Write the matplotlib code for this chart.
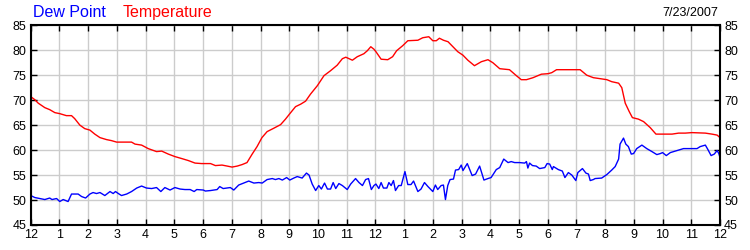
import matplotlib
matplotlib.use("Agg")
import matplotlib.pyplot as plt

plt.rcParams["font.family"] = ["Liberation Sans", "DejaVu Sans"]

# hours since midnight, 7/23/2007
temp_hours = [
    0.0, 0.14, 0.26, 0.49, 0.66, 0.84, 1.01, 1.24, 1.42, 1.53, 1.71, 1.88,
    2.06, 2.23, 2.41, 2.64, 2.81, 2.99, 3.51, 3.63, 3.86, 4.09, 4.38, 4.56,
    4.79, 5.02, 5.26, 5.49, 5.72, 5.95, 6.26, 6.43, 6.66, 6.84, 7.01, 7.19,
    7.36, 7.53, 7.71, 7.88, 8.05, 8.23, 8.47, 8.70, 8.87, 9.05, 9.22, 9.40,
    9.57, 9.74, 9.98, 10.21, 10.44, 10.67, 10.85, 10.97, 11.2, 11.37, 11.6,
    11.72, 11.84, 11.95, 12.02, 12.2, 12.43, 12.6, 12.74, 12.95, 13.13,
    13.48, 13.65, 13.86, 14.0, 14.12, 14.23, 14.37, 14.53, 14.7, 14.87,
    15.05, 15.22, 15.45, 15.69, 15.92, 16.09, 16.33, 16.67, 16.91, 17.08,
    17.26, 17.49, 17.78, 18.01, 18.14, 18.31, 18.6, 19.13, 19.36, 19.59,
    19.83, 20.06, 20.23, 20.47, 20.58, 20.7, 20.84, 20.95, 21.16, 21.34,
    21.57, 21.77, 22.33, 22.56, 22.79, 23.02, 23.49, 23.72, 23.9, 24.0,
]
temperature = [
    70.7, 70.1, 69.4, 68.5, 68.1, 67.5, 67.3, 66.9, 66.9, 66.3, 65.0, 64.3,
    64.0, 63.2, 62.5, 62.1, 61.9, 61.6, 61.6, 61.2, 61.0, 60.3, 59.7, 59.8,
    59.2, 58.7, 58.3, 57.9, 57.4, 57.3, 57.3, 56.9, 57.0, 56.8, 56.6, 56.8,
    57.1, 57.5, 59.2, 60.7, 62.5, 63.7, 64.4, 65.1, 66.2, 67.5, 68.7, 69.2,
    69.8, 71.2, 72.9, 74.9, 75.9, 77.0, 78.3, 78.6, 78.0, 78.7, 79.3,
    79.9, 80.7, 80.2, 79.7, 78.2, 78.1, 78.7, 79.9, 80.9, 81.9,
    82.0, 82.5, 82.7, 81.9, 81.9, 82.4, 82.0, 81.7, 80.7, 79.7,
    79.0, 78.0, 76.9, 77.7, 78.1, 77.5, 76.3, 76.1, 74.9, 74.1,
    74.1, 74.5, 75.2, 75.3, 75.5, 76.1, 76.1, 76.1, 75.0, 74.5,
    74.3, 74.1, 73.7, 73.4, 72.5, 69.4, 67.7, 66.5, 66.2, 65.7,
    64.5, 63.2, 63.2, 63.4, 63.4, 63.5, 63.4, 63.2, 63.0, 62.5,
]

dew_hours = [
    0.0, 0.14, 0.31, 0.49, 0.6, 0.66, 0.74, 0.9, 1.01, 1.13, 1.3, 1.42,
    1.65, 1.77, 1.91, 2.06, 2.17, 2.29, 2.41, 2.58, 2.76, 2.87, 2.95, 3.05,
    3.16, 3.34, 3.51, 3.69, 3.86, 4.03, 4.21, 4.38, 4.53, 4.67, 4.85, 5.02,
    5.2, 5.37, 5.55, 5.69, 5.78, 6.01, 6.08, 6.26, 6.49, 6.58, 6.7, 6.84,
    6.95, 7.07, 7.24, 7.42, 7.59, 7.77, 7.94, 8.06, 8.23, 8.41, 8.52, 8.64,
    8.76, 8.91, 9.02, 9.16, 9.28, 9.45, 9.6, 9.69, 9.8, 9.92, 10.03, 10.12,
    10.23, 10.33, 10.44, 10.53, 10.62, 10.73, 10.85, 11.02, 11.14, 11.31,
    11.43, 11.55, 11.66, 11.76, 11.86, 11.95, 12.02, 12.12, 12.2, 12.28,
    12.4, 12.47, 12.55, 12.63, 12.7, 12.81, 12.9, 13.03, 13.13, 13.24,
    13.33, 13.48, 13.59, 13.71, 13.83, 14.0, 14.09, 14.17, 14.29, 14.37,
    14.44, 14.52, 14.6, 14.72, 14.79, 14.9, 14.99, 15.05, 15.2, 15.37,
    15.49, 15.63, 15.78, 15.92, 16.03, 16.21, 16.33, 16.47, 16.62, 16.73,
    16.85, 17.02, 17.2, 17.26, 17.31, 17.37, 17.47, 17.6, 17.72, 17.9,
    17.98, 18.07, 18.16, 18.2, 18.37, 18.51, 18.6, 18.72, 18.84, 18.98,
    19.05, 19.21, 19.33, 19.42, 19.48, 19.59, 19.65, 19.88, 20.06, 20.23,
    20.35, 20.47, 20.52, 20.64, 20.72, 20.81, 20.91, 20.99, 21.1, 21.28,
    21.45, 21.63, 21.8, 21.92, 22.0, 22.13, 22.27, 22.5, 22.73, 22.97,
    23.2, 23.31, 23.49, 23.57, 23.69, 23.8, 23.9, 23.96, 24.0,
]
dew_point = [
    50.9, 50.5, 50.3, 50.1, 50.3, 50.4, 50.1, 50.3, 49.7, 50.1, 49.7, 51.2,
    51.2, 50.7, 50.4, 51.2, 51.5, 51.3, 51.5, 50.9, 51.7, 51.3, 51.7, 51.3,
    50.9, 51.2, 51.7, 52.4, 52.8, 52.4, 52.3, 52.5, 51.7, 52.5, 52.0, 52.5,
    52.2, 52.1, 52.1, 51.7, 52.1, 52.0, 51.8, 51.9, 52.1, 52.7, 52.3, 52.4,
    52.5, 52.0, 53.0, 53.4, 53.8, 53.4, 53.5, 53.4, 54.1, 54.3, 54.1, 54.3,
    54.0, 54.5, 54.0, 54.4, 54.7, 54.4, 55.4, 55.0, 53.2, 51.9, 52.9, 52.2,
    53.4, 52.2, 52.2, 53.5, 52.3, 53.3, 52.9, 52.1, 53.2, 54.3,
    53.5, 52.9, 54.1, 54.3, 52.1, 52.9, 53.2, 52.3, 53.5, 52.4,
    52.4, 53.5, 52.9, 53.9, 51.9, 52.9, 52.9, 55.7, 53.1, 53.1,
    53.8, 51.7, 52.2, 53.5, 52.7, 51.7, 53.0, 52.1, 52.9, 53.0,
    50.1, 52.9, 54.1, 54.2, 56.0, 56.1, 57.0, 55.9, 57.3, 54.9,
    55.2, 56.8, 54.0, 54.3, 54.5, 56.1, 56.5, 58.2, 57.5, 57.7,
    57.5, 57.5, 57.4, 57.7, 56.4, 57.4, 56.9, 56.8, 56.3, 56.5,
    57.3, 57.2, 56.1, 56.7, 56.1, 55.8, 54.5, 55.5, 55.0, 53.9,
    55.5, 56.3, 55.4, 55.2, 53.9, 54.1, 54.3, 54.4, 55.1, 56.0,
    56.7, 58.2, 61.2, 62.4, 61.2, 60.7, 59.2, 59.3, 60.3, 61.0,
    60.3, 59.7, 59.1, 59.3, 59.5, 58.9, 59.5, 59.9, 60.3, 60.3,
    60.3, 60.7, 61.0, 60.2, 58.9, 59.2, 59.9, 59.3, 58.5,
]

hour_labels = ["12"] + [str(h) for h in range(1, 12)] + ["12"] + [str(h) for h in range(1, 12)] + ["12"]
y_ticks = list(range(45, 90, 5))

fig = plt.figure(figsize=(7.5, 2.5), dpi=100)
ax = fig.add_axes([0.041, 0.1, 0.919, 0.799])

ax.plot(dew_hours, dew_point, color="#0000ff", linewidth=1.0)
ax.plot(temp_hours, temperature, color="#ff0000", linewidth=1.0)

ax.set_xlim(0, 24)
ax.set_ylim(45, 85)
ax.set_xticks(range(25))
ax.set_xticklabels(hour_labels)
ax.set_yticks(y_ticks)
ax.grid(True, color="#cccccc", linewidth=1.0)
ax.set_axisbelow(True)
ax.tick_params(direction="in", length=4, width=1, top=True, right=True,
               labelright=True, labelsize=9, pad=3)
for spine in ax.spines.values():
    spine.set_linewidth(1.5)

fig.text(0.044, 0.95, "Dew Point", color="#0000ff", fontsize=11.5, va="center")
fig.text(0.164, 0.95, "Temperature", color="#ff0000", fontsize=11.5, va="center")
fig.text(0.958, 0.95, "7/23/2007", color="black", fontsize=9, va="center", ha="right")

fig.savefig("out.png", dpi=100)
